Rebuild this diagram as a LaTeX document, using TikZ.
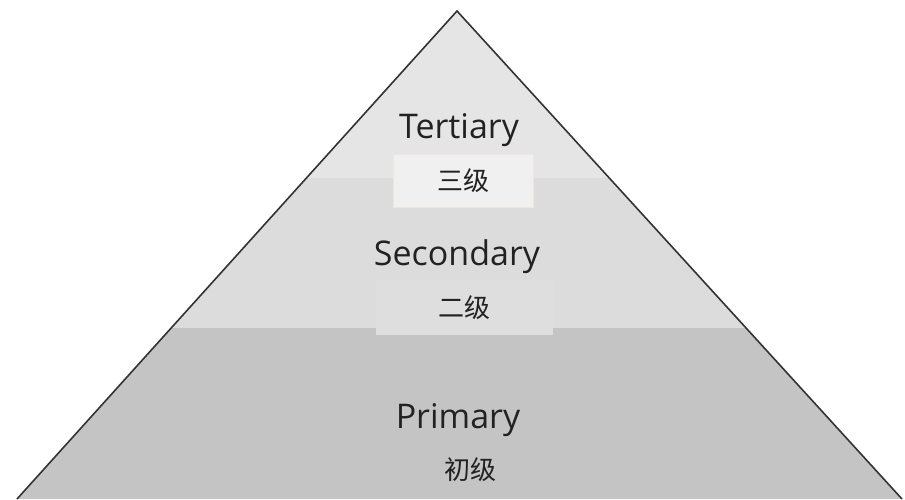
\documentclass[tikz,border=0pt]{standalone}
\usepackage{fontspec}
\setmainfont{Open Sans}
\newfontfamily\cjk{Noto Sans CJK SC}
\definecolor{bandtop}{HTML}{E5E5E5}
\definecolor{bandmid}{HTML}{DCDCDC}
\definecolor{bandlow}{HTML}{C4C4C4}
\definecolor{edge}{HTML}{333333}
\definecolor{boxone}{HTML}{F0F0F0}
\definecolor{boxonerim}{HTML}{ECE9DC}
\definecolor{boxtwo}{HTML}{DEDEDE}
\definecolor{txt}{HTML}{222222}
\begin{document}
\begin{tikzpicture}[x=1pt,y=-1pt,
  level/.style={font=\fontsize{34}{40}\selectfont, text=txt, anchor=base, inner sep=0pt},
  zh/.style={font=\cjk\fontsize{26}{30}\selectfont, text=txt, inner sep=0pt},
  labelbox/.style={inner sep=0pt}]
\useasboundingbox (0,0) rectangle (905,499);
\coordinate (apex) at (457,11);
\coordinate (bl) at (17,499);
\coordinate (br) at (902,499);
\begin{scope}
  \clip (apex) -- (bl) -- (br) -- cycle;
  \fill[bandtop] (0,0) rectangle (905,178);
  \fill[bandmid] (0,178) rectangle (905,328);
  \fill[bandlow] (0,328) rectangle (905,499);
\end{scope}
\node[labelbox, fill=boxone, draw=boxonerim, line width=1pt, minimum width=140, minimum height=53] (b3) at (463,180.5) {};
\node[labelbox, fill=boxtwo, minimum width=177, minimum height=55] (b2) at (464.5,307.5) {};
\draw[edge, line width=1.6pt, line join=miter] (bl) -- (apex) -- (br);
\node[level] (t3) at (459,138) {Tertiary};
\node[level] (t2) at (457,265) {Secondary};
\node[level] (t1) at (458,428) {Primary};
\node[zh] (c3) at (b3.center) {三级};
\node[zh] (c2) at (b2.center) {二级};
\node[zh] (c1) at (470,470) {初级};
\end{tikzpicture}
\end{document}
